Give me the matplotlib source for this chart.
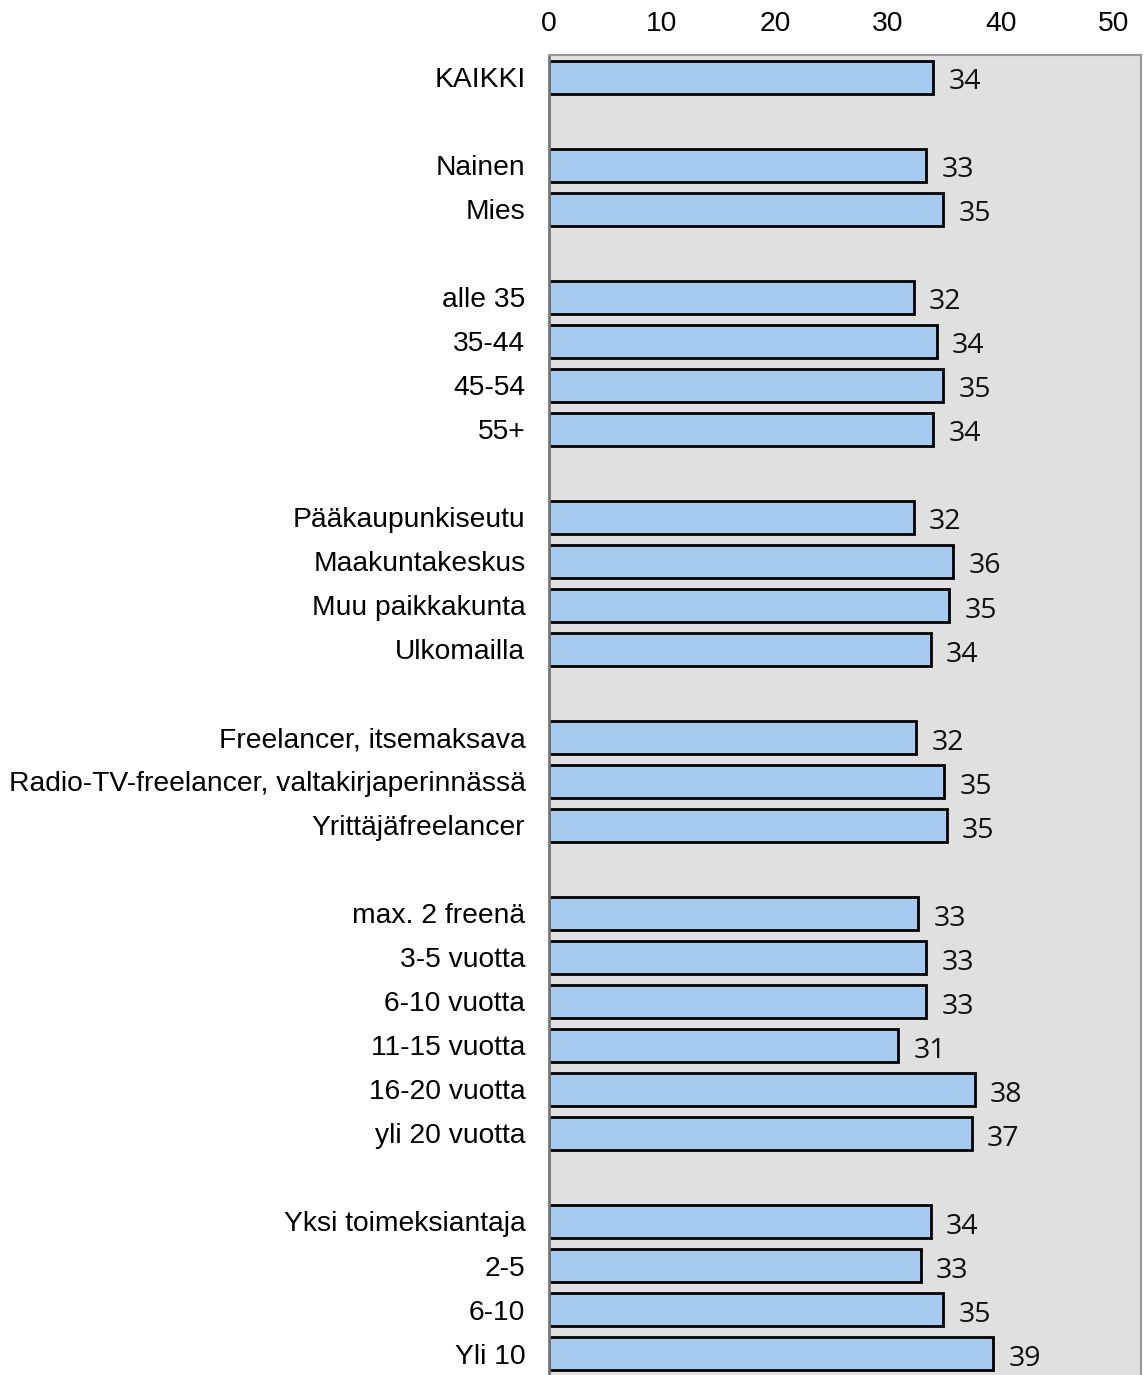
import numpy as np
import matplotlib.pyplot as plt

# data (blank strings = gaps between groups)
labels = ["KAIKKI", "",
          "Nainen", "Mies", "",
          "alle 35", "35-44", "45-54", "55+", "",
          "Pääkaupunkiseutu", "Maakuntakeskus", "Muu paikkakunta", "Ulkomailla", "",
          "Freelancer, itsemaksava", "Radio-TV-freelancer, valtakirjaperinnässä", "Yrittäjäfreelancer", "",
          "max. 2 freenä", "3-5 vuotta", "6-10 vuotta", "11-15 vuotta", "16-20 vuotta", "yli 20 vuotta", "",
          "Yksi toimeksiantaja", "2-5", "6-10", "Yli 10"]
values = [34.0, None,
          33.4, 34.9, None,
          32.3, 34.3, 34.9, 34.0, None,
          32.3, 35.8, 35.4, 33.8, None,
          32.5, 35.0, 35.2, None,
          32.7, 33.4, 33.4, 30.9, 37.7, 37.4, None,
          33.8, 32.9, 34.9, 39.3]
ticks = [0, 10, 20, 30, 40, 50]

fig = plt.figure(figsize=(11.44, 13.75), dpi=100)
ax = fig.add_axes([549/1144, -0.002, 592/1144, 1 - 55/1375 + 0.002])
ax.set_facecolor("#e0e0e0")

ypos = np.arange(len(labels))
for y, v in zip(ypos, values):
    if v is None:
        continue
    ax.barh(y, v, height=0.75, color="#a6caf0", edgecolor="black", linewidth=2)
    ax.text(v + 1.35, y + 0.12, "%.0f" % v, ha="left", va="center",
            fontsize=20.5, family="Open Sans", color="#111111")

ax.set_xlim(0, 52.4)
ax.set_ylim(len(labels) - 0.45, -0.5)
ax.xaxis.tick_top()
ax.set_xticks(ticks)
ax.set_xticklabels([str(t) for t in ticks], fontsize=20.3, family="Liberation Sans")
ax.set_yticks(ypos)
ax.set_yticklabels(labels, fontsize=20.3, family="Liberation Sans")
ax.tick_params(axis="both", length=0)
ax.tick_params(axis="x", pad=13)
ax.tick_params(axis="y", pad=17)
for s in ["top", "right", "bottom"]:
    ax.spines[s].set_color("#999999")
    ax.spines[s].set_linewidth(1.5)
ax.spines["left"].set_color("#777777")
ax.spines["left"].set_linewidth(2)

fig.savefig("out.png", dpi=100)
